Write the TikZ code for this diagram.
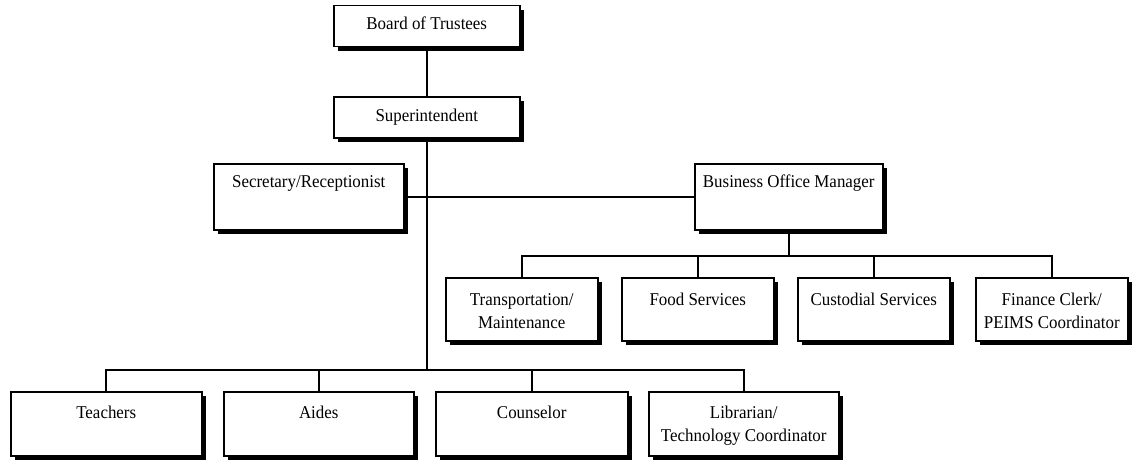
\documentclass[tikz,border=0pt]{standalone}
\usepackage{fontspec}
\setmainfont[FakeStretch=0.94]{Liberation Serif}
\usetikzlibrary{shadows}
\begin{document}
\begin{tikzpicture}[x=1pt,y=-1pt,
  orgbox/.style={draw=black, line width=1.5pt, fill=white, inner sep=0pt, anchor=north west,
    drop shadow={shadow xshift=4.5pt, shadow yshift=-4.5pt, fill=black, opacity=1}},
  txt/.style={inner sep=0pt, anchor=base, font=\fontsize{18}{23}\selectfont},
  conn/.style={draw=black, line width=1.8pt}]
\useasboundingbox[fill=white] (0,0) rectangle (1132,460);
% boxes
\node[orgbox, minimum width=186pt, minimum height=41pt] (board) at (333,5) {};
\node[orgbox, minimum width=186pt, minimum height=41pt] (super) at (333,96) {};
\node[orgbox, minimum width=190pt, minimum height=66pt] (sec) at (213,163) {};
\node[orgbox, minimum width=188pt, minimum height=66pt] (bom) at (694,163) {};
\node[orgbox, minimum width=152pt, minimum height=63pt] (trans) at (445,277) {};
\node[orgbox, minimum width=152pt, minimum height=63pt] (food) at (621,277) {};
\node[orgbox, minimum width=152pt, minimum height=63pt] (cust) at (797,277) {};
\node[orgbox, minimum width=152pt, minimum height=63pt] (fin) at (975,277) {};
\node[orgbox, minimum width=191pt, minimum height=64pt] (teach) at (10,391) {};
\node[orgbox, minimum width=190pt, minimum height=64pt] (aides) at (223,391) {};
\node[orgbox, minimum width=192pt, minimum height=64pt] (couns) at (435,391) {};
\node[orgbox, minimum width=190pt, minimum height=64pt] (lib) at (648,391) {};
% texts
\node[txt] (tboard) at (board.center |- 0,30) {Board of Trustees};
\node[txt] (tsuper) at (super.center |- 0,121) {Superintendent};
\node[txt] (tsec) at (sec.center |- 0,187) {Secretary/Receptionist};
\node[txt] (tbom) at (bom.center |- 0,187) {Business Office Manager};
\node[txt] (ttrans1) at (trans.center |- 0,305) {Transportation/};
\node[txt] (ttrans2) at (trans.center |- 0,328) {Maintenance};
\node[txt] (tfood) at (food.center |- 0,305) {Food Services};
\node[txt] (tcust) at (cust.center |- 0,305) {Custodial Services};
\node[txt] (tfin1) at (fin.center |- 0,305) {Finance Clerk/};
\node[txt] (tfin2) at (fin.center |- 0,328) {PEIMS Coordinator};
\node[txt] (tteach) at (teach.center |- 0,418) {Teachers};
\node[txt] (taides) at (aides.center |- 0,418) {Aides};
\node[txt] (tcouns) at (couns.center |- 0,418) {Counselor};
\node[txt] (tlib1) at (lib.center |- 0,418) {Librarian/};
\node[txt] (tlib2) at (lib.center |- 0,441) {Technology Coordinator};
% bus coordinates
\coordinate (b1) at (super.south |- 0,370);
\coordinate (b2) at (bom.south |- 0,256);
% connectors
\draw[conn] (board.south) -- (super.north);
\draw[conn] (super.south) -- (b1);
\draw[conn] (sec.east) -- (sec.east -| bom.west);
\draw[conn] (bom.south) -- (b2);
\draw[conn] (trans.north) -- (trans.north |- b2) -| (fin.north);
\draw[conn] (food.north) -- (food.north |- b2);
\draw[conn] (cust.north) -- (cust.north |- b2);
\draw[conn] (teach.north) -- (teach.north |- b1) -| (lib.north);
\draw[conn] (aides.north) -- (aides.north |- b1);
\draw[conn] (couns.north) -- (couns.north |- b1);
\end{tikzpicture}
\end{document}
